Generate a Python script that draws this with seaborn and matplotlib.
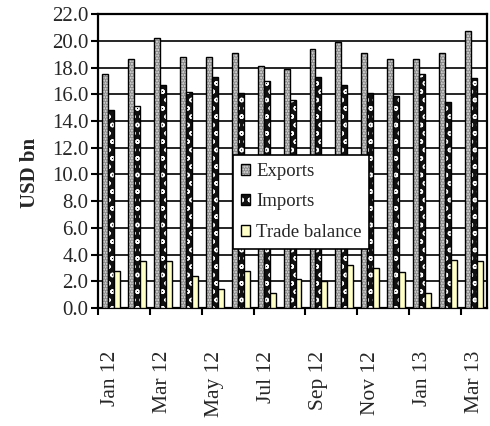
import numpy as np
import pandas as pd
import matplotlib
matplotlib.use('Agg')
import matplotlib.pyplot as plt
import seaborn as sns

months = ['Jan 12', 'Feb 12', 'Mar 12', 'Apr 12', 'May 12', 'Jun 12', 'Jul 12', 'Aug 12',
          'Sep 12', 'Oct 12', 'Nov 12', 'Dec 12', 'Jan 13', 'Feb 13', 'Mar 13']
exports = [17.5, 18.6, 20.2, 18.8, 18.8, 19.1, 18.1, 17.9, 19.4, 19.9, 19.1, 18.6, 18.6, 19.1, 20.7]
imports = [14.8, 15.1, 16.7, 16.2, 17.3, 16.1, 17.0, 15.6, 17.3, 16.7, 16.1, 15.9, 17.5, 15.4, 17.2]
balance = [2.8, 3.5, 3.5, 2.4, 1.4, 2.8, 1.1, 2.2, 2.0, 3.2, 3.0, 2.7, 1.1, 3.6, 3.5]
series = ['Exports', 'Imports', 'Trade balance']

df = pd.DataFrame({
    'month': months * 3,
    'value': exports + imports + balance,
    'series': np.repeat(series, len(months)),
})

sns.set_theme(style='white')
plt.rcParams['font.family'] = ['Liberation Serif', 'DejaVu Serif']
plt.rcParams['hatch.linewidth'] = 1.0

fig = plt.figure(figsize=(4.9, 4.26), dpi=100)
ax = fig.add_axes([0.2, 0.277, 0.794, 0.69])

palette = {'Exports': '#8a8a8a', 'Imports': '#111111', 'Trade balance': '#ffffc8'}
sns.barplot(data=df, x='month', y='value', hue='series', palette=palette, width=0.69,
            edgecolor='black', linewidth=1.0, saturation=1, legend=False, ax=ax, zorder=3)

# pattern fills like the original spreadsheet chart
hatches = ['......', 'oo', None]
hatch_cols = ['#e6e6e6', 'white', None]
for cont, h, hc in zip(ax.containers, hatches, hatch_cols):
    for p in cont.patches:
        if h:
            p.set_hatch(h)
            if hasattr(p, 'set_hatchcolor'):
                p.set_hatchcolor(hc)
            else:
                p._hatch_color = matplotlib.colors.to_rgba(hc)

ax.set_ylim(0, 22)
ax.set_yticks(np.arange(0, 22.1, 2))
ax.set_yticklabels([f'{v:.1f}' for v in np.arange(0, 22.1, 2)], fontsize=15)
ax.set_xlim(-0.5, len(months) - 0.5)
ax.set_xticks(np.arange(-0.5, len(months) - 0.5, 2))
ax.set_xticklabels([])
ax.set_xticks(np.arange(0, len(months), 2), minor=True)
ax.set_xticklabels(months[::2], minor=True, rotation=90, fontsize=15.5, va='top')
ax.tick_params(axis='x', which='minor', length=0, pad=31)
ax.tick_params(axis='x', which='major', direction='out', length=5, width=1.5, color='black', bottom=True)
ax.tick_params(axis='y', direction='out', length=5, width=1.5, color='black', left=True, pad=2)

ax.grid(axis='y', color='black', linewidth=1.2, zorder=0)
ax.set_axisbelow(True)
for s in ax.spines.values():
    s.set_color('black')
    s.set_linewidth(1.6)

ax.set_xlabel('')
ax.set_ylabel('USD bn', fontsize=15, fontweight='bold')
ax.yaxis.set_label_coords(-0.15, 0.46)

leg = ax.legend(ax.containers, series, loc='upper left', bbox_to_anchor=(0.476, 0.636),
                bbox_transform=fig.transFigure, fontsize=13.5, frameon=True, fancybox=False,
                framealpha=1, handlelength=0.5, handleheight=0.5, handletextpad=0.3,
                labelspacing=0.72, borderpad=0.42, borderaxespad=0)
leg.get_frame().set_edgecolor('black')
leg.get_frame().set_facecolor('white')
leg.get_frame().set_linewidth(1.2)
leg.set_zorder(5)

fig.savefig('out.png', dpi=100)
